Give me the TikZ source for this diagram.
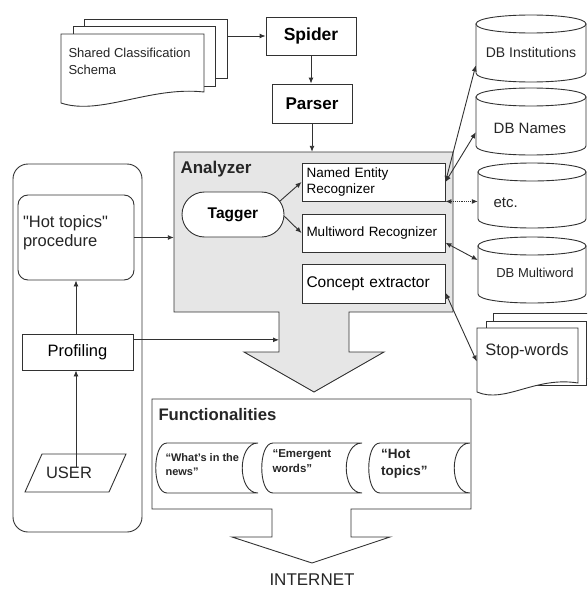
\documentclass[tikz,border=0pt]{standalone}
\usepackage{fontspec}
\setmainfont{Liberation Sans}
\newfontfamily\rawsans{Liberation Sans}[Ligatures=TeXOff]
\usetikzlibrary{arrows.meta,shapes.misc,calc}
\definecolor{lncol}{RGB}{50,50,50}
\definecolor{anzfill}{RGB}{230,230,230}
\newcommand\fsz[2]{\fontsize{#1}{#2}\selectfont}
\tikzset{
  ln/.style={draw=lncol, line width=0.9pt},
  arr/.style={ln, -{Latex[length=6pt,width=5pt]}},
  darr/.style={ln, {Latex[length=6pt,width=5pt]}-{Latex[length=6pt,width=5pt]}},
  box/.style={ln, fill=white, rectangle, inner sep=0pt},
  hole/.style={inner sep=0pt, rectangle},
  txt/.style={text=black!85},
}
\newcommand\dbcyl[4]{%
  \draw[ln, fill=white] (#1,#3+9) -- (#1,#4-9) .. controls (#1,#4+3) and (#2,#4+3) .. (#2,#4-9) -- (#2,#3+9) -- cycle;
  \draw[ln, fill=white] (#1,#3+9) .. controls (#1,#3-3) and (#2,#3-3) .. (#2,#3+9) .. controls (#2,#3+21) and (#1,#3+21) .. (#1,#3+9) -- cycle;}
\newcommand\stored[2]{%
  \draw[ln, fill=white] (#1,443) -- (#2,443) .. controls (#2-21,443) and (#2-21,493) .. (#2,493) -- (#1,493) .. controls (#1-15,493) and (#1-15,443) .. (#1,443) -- cycle;}
\begin{document}
\begin{tikzpicture}[x=1pt,y=-1pt]
\useasboundingbox (0,0) rectangle (587,589);
\clip (0,0) rectangle (587,589);

% Shared Classification Schema
\node[box, minimum width=143pt, minimum height=59pt] (scsback) at (155.5,48.5) {};
\node[box, minimum width=142pt, minimum height=60pt] (scsmid) at (144,56) {};
\draw[ln, fill=white] (61,34) -- (204,34) -- (204,92) .. controls (150,86) and (100,116) .. (61,103) -- cycle;
\node[hole, minimum width=143pt, minimum height=69pt] (scs) at (132.5,68.5) {};
\node[txt, anchor=west, align=left, font=\fsz{13}{17}] at (65,61.5) {Shared Classification\\Schema};

% Spider, Parser
\node[box, minimum width=90pt, minimum height=38pt, font=\fsz{17.5}{20}\bfseries] (spider) at (311,36) {Spider};
\node[box, minimum width=80pt, minimum height=39pt, font=\fsz{17}{20}\bfseries] (parser) at (312,103.5) {Parser};
\draw[arr] (scsback.east |- spider.west) -- (spider.west);
\draw[arr] (spider.south) -- (spider.south |- parser.north);

% Analyzer
\draw[ln, fill=anzfill] (174,152) -- (453,152) -- (453,312) -- (349,312) -- (349,352) -- (384,352) -- (314,392) -- (244,352) -- (279,352) -- (279,312) -- (174,312) -- cycle;
\node[hole, minimum width=279pt, minimum height=160pt] (anz) at (313.5,232) {};
\coordinate (anzstem) at (279,332);
\node[txt, anchor=west, font=\fsz{17}{20}\bfseries] at (177,169) {Analyzer};
\draw[arr] (parser.south) -- (parser.south |- anz.north);

\node[ln, fill=white, rounded rectangle, minimum width=102pt, minimum height=45pt, inner sep=0pt, font=\fsz{15.5}{18}\bfseries] (tagger) at (233,214.5) {Tagger};
\node[box, minimum width=143pt, minimum height=38pt, text width=134pt, inner xsep=4.5pt, align=left, font=\fsz{13.5}{16}] (ner) at (373.5,182) {Named Entity\\Recognizer};
\node[box, minimum width=143pt, minimum height=38pt, text width=134pt, inner xsep=4.5pt, align=left, font=\fsz{13.5}{16}] (mw) at (373.5,233) {Multiword Recognizer};
\node[box, minimum width=143pt, minimum height=39pt, text width=134pt, inner xsep=4.5pt, align=left, font=\fsz{15.5}{18}] (ce) at (373.5,283.5) {Concept extractor};
\draw[arr] (tagger.16) -- (ner.west);
\draw[arr] (tagger.-2) -- (mw.west);

% Databases
\dbcyl{476}{586}{15}{82}
\node[hole, minimum width=110pt, minimum height=67pt] (dbi) at (531,48.5) {};
\node[txt, font=\fsz{14}{16}] at (531,52) {DB Institutions};
\dbcyl{476}{586}{88}{155}
\node[hole, minimum width=110pt, minimum height=67pt] (dbn) at (531,121.5) {};
\node[txt, font=\fsz{15}{18}] at (530,128) {DB Names};
\dbcyl{478}{586}{163}{228}
\node[hole, minimum width=108pt, minimum height=65pt] (etc) at (532,195.5) {};
\node[txt, anchor=west, font=\fsz{15}{18}] at (490,203) {etc.};
\dbcyl{478}{586}{237}{303}
\node[hole, minimum width=108pt, minimum height=66pt] (dbm) at (532,270) {};
\node[txt, font=\fsz{13}{16}] at (535,273) {DB Multiword};

% Stop-words
\node[box, minimum width=107pt, minimum height=65pt] (swback) at (546.5,345.5) {};
\node[box, minimum width=100pt, minimum height=64pt] (swmid) at (536,353) {};
\draw[ln, fill=white] (477,328) -- (578,328) -- (578,383) .. controls (535,376) and (505,404) .. (477,392) -- cycle;
\node[hole, minimum width=101pt, minimum height=67pt] (sw) at (527.5,361.5) {};
\node[txt, font=\fsz{16.5}{19}] at (527,351) {Stop-words};

\draw[darr] (ner.east) -- ($(dbi.north west)!0.75!(dbi.south west)$);
\draw[darr] (ner.east) -- ($(dbn.north west)!0.66!(dbn.south west)$);
\draw[darr, densely dotted] (ner.south east) -- (ner.south east -| etc.west);
\draw[darr] ($(mw.north east)!0.75!(mw.south east)$) -- ($(dbm.north west)!0.35!(dbm.south west)$);
\draw[darr] ($(ce.north east)!0.73!(ce.south east)$) -- (sw.west);

% Left panel
\node[ln, rounded corners=15pt, minimum width=129pt, minimum height=368pt] (panel) at (77.5,348) {};
\node[ln, fill=white, rounded corners=10pt, minimum width=116pt, minimum height=85pt] (hot) at (76,237.5) {};
\node[txt, anchor=west, align=left, font=\rawsans\fsz{16.5}{19.5}] at (19.5,232.5) {"Hot topics"\\procedure};
\node[box, minimum width=111pt, minimum height=36pt, font=\fsz{16.5}{19}] (prof) at (77.5,352) {Profiling};
\draw[ln, fill=white] (42,454) -- (126,454) -- (109,492) -- (25,492) -- cycle;
\node[inner sep=0pt, font=\fsz{16.5}{19}, txt] (user) at (69,473) {USER};
\draw[arr] (hot.south |- user.north) -- (hot.south |- prof.south);
\draw[arr] (hot.south |- prof.north) -- (hot.south);
\draw[arr] (hot.east) -- (hot.east -| anz.west);
\coordinate (profout) at ($(prof.north east)!0.17!(prof.south east)$);
\draw[arr] (profout) -- (profout -| anzstem);

% Functionalities
\draw[ln, fill=white] (152,399) -- (471,399) -- (471,509) -- (351,509) -- (351,537) -- (390,537) -- (312,563) -- (232,537) -- (272,537) -- (272,509) -- (152,509) -- cycle;
\node[hole, minimum width=319pt, minimum height=110pt] (func) at (311.5,454) {};
\node[txt, anchor=west, font=\fsz{16.7}{20}\bfseries] at (155,415) {Functionalities};
\stored{167}{258}
\stored{273}{362}
\stored{380}{470}
\node[txt, anchor=west, align=left, font=\fsz{11}{14}\bfseries] (f1) at (162,465) {“What’s in the\\news”};
\node[txt, anchor=west, align=left, font=\fsz{11.5}{14.5}\bfseries] (f2) at (269,461) {“Emergent\\words”};
\node[txt, anchor=west, align=left, font=\fsz{13.5}{17}\bfseries] (f3) at (377.5,463.5) {“Hot\\topics”};

\node[txt, font=\fsz{17}{20}] (inet) at (312,580) {INTERNET};
\end{tikzpicture}
\end{document}
